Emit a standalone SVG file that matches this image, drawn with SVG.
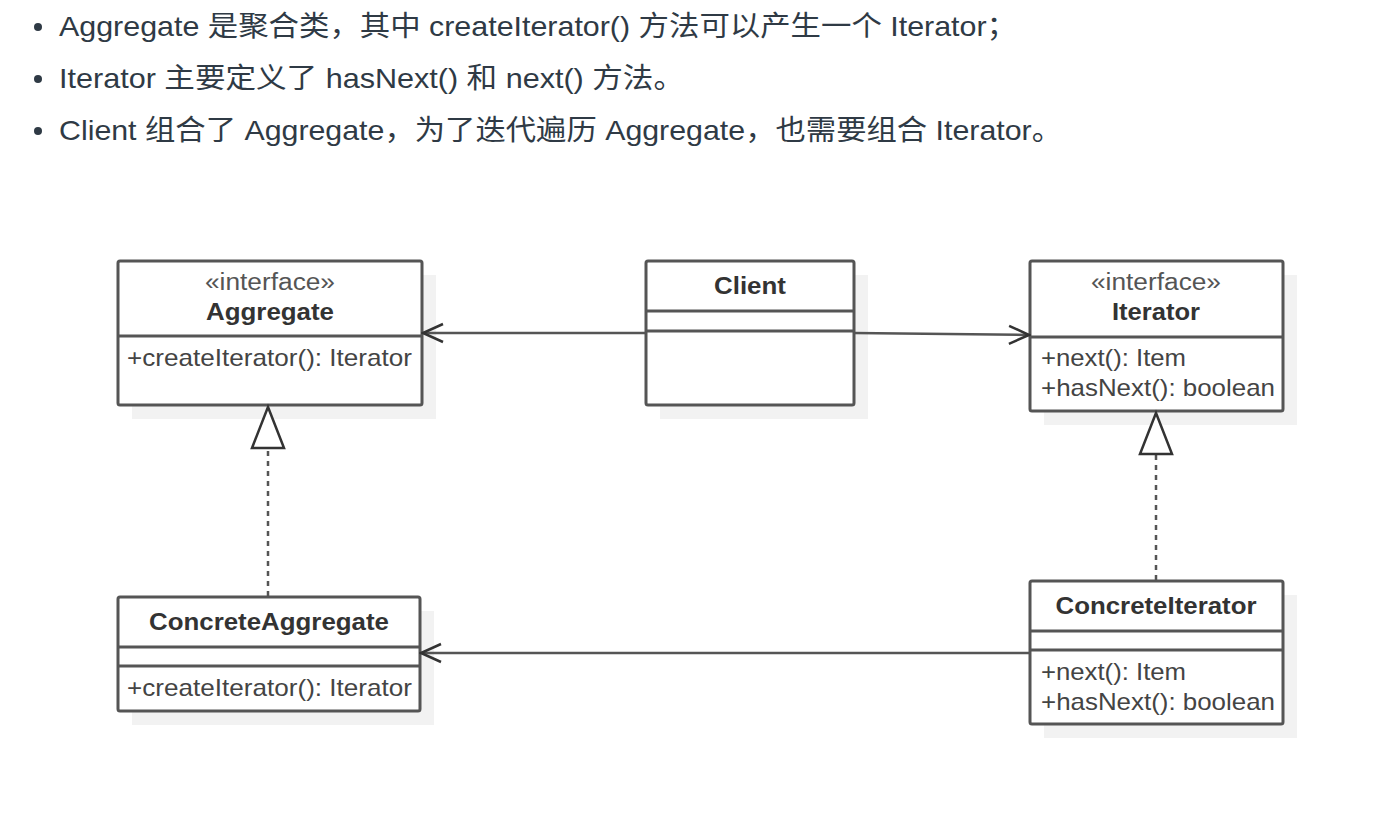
<svg xmlns="http://www.w3.org/2000/svg" width="1384" height="814" viewBox="0 0 1384 814">
<style>
.bul{font-family:"Liberation Sans","Noto Sans CJK SC",sans-serif;font-size:28px;fill:#2f3a45}
.box{fill:#fff;stroke:#555;stroke-width:3}
.sh{fill:#f2f2f2}
.div{stroke:#555;stroke-width:3}
.st{font-family:"Liberation Sans",Arial,sans-serif;font-size:23px;fill:#555;text-anchor:middle}
.nm{font-family:"Liberation Sans",Arial,sans-serif;font-size:24px;font-weight:bold;fill:#333;text-anchor:middle}
.mt{font-family:"Liberation Sans",Arial,sans-serif;font-size:24px;fill:#444}
.ln{stroke:#555;stroke-width:2.5;fill:none}
.dash{stroke:#555;stroke-width:2.5;fill:none;stroke-dasharray:5,5}
.tri{fill:#fff;stroke:#333;stroke-width:2.5}
</style>
<defs>
<marker id="open" markerWidth="24" markerHeight="24" viewBox="0 0 24 24" refX="22" refY="12" orient="auto" markerUnits="userSpaceOnUse">
<path d="M2,3 L22,12 L2,21" fill="none" stroke="#333" stroke-width="2.5"/>
</marker>
</defs>
<g id="text">
<circle cx="38" cy="27" r="4" fill="#2f3a45"/>
<text class="bul" x="59" y="36" textLength="958" lengthAdjust="spacingAndGlyphs">Aggregate 是聚合类，其中 createIterator() 方法可以产生一个 Iterator；</text>
<circle cx="38" cy="79" r="4" fill="#2f3a45"/>
<text class="bul" x="59" y="88" textLength="625" lengthAdjust="spacingAndGlyphs">Iterator 主要定义了 hasNext() 和 next() 方法。</text>
<circle cx="38" cy="131" r="4" fill="#2f3a45"/>
<text class="bul" x="59" y="140" textLength="1003" lengthAdjust="spacingAndGlyphs">Client 组合了 Aggregate，为了迭代遍历 Aggregate，也需要组合 Iterator。</text>
</g>
<g id="Aggregate">
<rect class="sh" x="132" y="275" width="304" height="144"/>
<rect class="box" x="118" y="261" width="304" height="144" rx="2"/>
<line class="div" x1="118" y1="336" x2="422" y2="336"/>
<text class="st" x="270" y="290" textLength="130" lengthAdjust="spacingAndGlyphs">«interface»</text>
<text class="nm" x="270" y="320" textLength="128" lengthAdjust="spacingAndGlyphs">Aggregate</text>
<text class="mt" x="127" y="366" textLength="285" lengthAdjust="spacingAndGlyphs">+createIterator(): Iterator</text>
</g>
<g id="Client">
<rect class="sh" x="660" y="275" width="208" height="144"/>
<rect class="box" x="646" y="261" width="208" height="144" rx="2"/>
<line class="div" x1="646" y1="311" x2="854" y2="311"/>
<line class="div" x1="646" y1="331" x2="854" y2="331"/>
<text class="nm" x="750" y="294" textLength="72" lengthAdjust="spacingAndGlyphs">Client</text>
</g>
<g id="Iterator">
<rect class="sh" x="1044" y="275" width="253" height="150"/>
<rect class="box" x="1030" y="261" width="253" height="150" rx="2"/>
<line class="div" x1="1030" y1="337" x2="1283" y2="337"/>
<text class="st" x="1156" y="290" textLength="130" lengthAdjust="spacingAndGlyphs">«interface»</text>
<text class="nm" x="1156" y="320" textLength="88" lengthAdjust="spacingAndGlyphs">Iterator</text>
<text class="mt" x="1041" y="366" textLength="145" lengthAdjust="spacingAndGlyphs">+next(): Item</text>
<text class="mt" x="1041" y="396" textLength="234" lengthAdjust="spacingAndGlyphs">+hasNext(): boolean</text>
</g>
<g id="ConcreteAggregate">
<rect class="sh" x="132" y="611" width="302" height="114"/>
<rect class="box" x="118" y="597" width="302" height="114" rx="2"/>
<line class="div" x1="118" y1="647" x2="420" y2="647"/>
<line class="div" x1="118" y1="666" x2="420" y2="666"/>
<text class="nm" x="269" y="630" textLength="240" lengthAdjust="spacingAndGlyphs">ConcreteAggregate</text>
<text class="mt" x="127" y="696" textLength="285" lengthAdjust="spacingAndGlyphs">+createIterator(): Iterator</text>
</g>
<g id="ConcreteIterator">
<rect class="sh" x="1044" y="595" width="253" height="143"/>
<rect class="box" x="1030" y="581" width="253" height="143" rx="2"/>
<line class="div" x1="1030" y1="631" x2="1283" y2="631"/>
<line class="div" x1="1030" y1="650" x2="1283" y2="650"/>
<text class="nm" x="1156" y="614" textLength="201" lengthAdjust="spacingAndGlyphs">ConcreteIterator</text>
<text class="mt" x="1041" y="680" textLength="145" lengthAdjust="spacingAndGlyphs">+next(): Item</text>
<text class="mt" x="1041" y="710" textLength="234" lengthAdjust="spacingAndGlyphs">+hasNext(): boolean</text>
</g>
<g id="connectors">
<line class="ln" x1="646" y1="333" x2="423" y2="333" marker-end="url(#open)"/>
<line class="ln" x1="854" y1="333" x2="1029" y2="335" marker-end="url(#open)"/>
<line class="ln" x1="1030" y1="653" x2="421" y2="653" marker-end="url(#open)"/>
<line class="dash" x1="268" y1="596" x2="268" y2="448"/>
<polygon class="tri" points="268,407 252,448 284,448"/>
<line class="dash" x1="1156" y1="580" x2="1156" y2="454"/>
<polygon class="tri" points="1156,413 1140,454 1172,454"/>
</g>
</svg>
